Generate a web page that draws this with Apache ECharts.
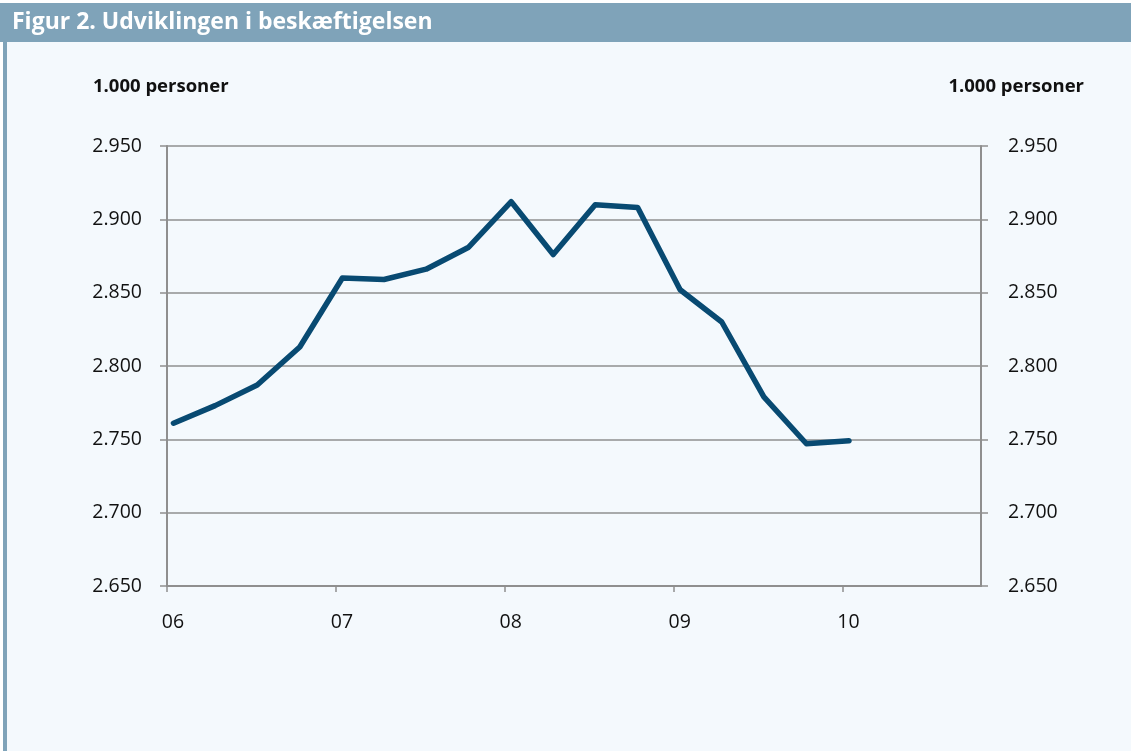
<!DOCTYPE html>
<html>
<head>
<meta charset="utf-8">
<script src="https://cdn.jsdelivr.net/npm/echarts@6/dist/echarts.min.js"></script>
<style>
  html, body { margin: 0; padding: 0; background: #fff; }
  #chart { width: 1131px; height: 751px; }
</style>
</head>
<body>
<div id="chart"></div>
<script>
/* Beskæftigelse, 1.000 personer, kvartalsvis 2006K1 - 2010K1 */
const quarters = [
  "2006-01-15", "2006-04-15", "2006-07-15", "2006-10-15",
  "2007-01-15", "2007-04-15", "2007-07-15", "2007-10-15",
  "2008-01-15", "2008-04-15", "2008-07-15", "2008-10-15",
  "2009-01-15", "2009-04-15", "2009-07-15", "2009-10-15",
  "2010-01-15",
];
const employment = [
  2761, 2773, 2787, 2813,
  2860, 2859, 2866, 2881,
  2912, 2876, 2910, 2908,
  2852, 2830, 2779, 2747,
  2749,
];
const yearTicks = [2006, 2007, 2008, 2009, 2010];
const xMin = 2006;
const xMax = 2010.82;
const yMin = 2650;
const yMax = 2950;
const yStep = 50;

const FONT = "'Open Sans', 'Noto Sans', sans-serif";
const BAR_COLOR = "#7fa3b9";
const BG_COLOR = "#f4f9fd";
const GRID_COLOR = "#8f8f8f";

/* 2.950 style thousands separator */
function fmtThousands(v) {
  const s = String(Math.round(v));
  return s.length > 3 ? s.slice(0, -3) + "." + s.slice(-3) : s;
}

/* date string -> decimal year, so the x axis can be a plain value axis */
function toYear(s) {
  const p = s.split("-").map(Number);
  const y = p[0];
  const start = Date.UTC(y, 0, 1);
  const end = Date.UTC(y + 1, 0, 1);
  return y + (Date.UTC(y, p[1] - 1, p[2]) - start) / (end - start);
}

const chart = echarts.init(document.getElementById("chart"), null, { renderer: "canvas" });

chart.setOption({
  backgroundColor: BG_COLOR,
  animation: false,
  textStyle: { fontFamily: FONT },
  graphic: [
    { type: "rect", left: 0, top: 0, shape: { width: 1131, height: 3 }, style: { fill: "#ffffff" } },
    { type: "rect", left: 0, top: 3, shape: { width: 1131, height: 39 }, style: { fill: BAR_COLOR } },
    { type: "rect", left: 0, top: 42, shape: { width: 3, height: 709 }, style: { fill: "#ffffff" } },
    { type: "rect", left: 3, top: 42, shape: { width: 4, height: 709 }, style: { fill: BAR_COLOR } },
    {
      type: "text", left: 12, top: 11,
      style: { text: "Figur 2. Udviklingen i beskæftigelsen", fill: "#ffffff", font: "bold 23px " + FONT },
    },
    {
      type: "text", left: 93, top: 77,
      style: { text: "1.000 personer", fill: "#111111", font: "bold 18.5px " + FONT },
    },
    {
      type: "text", right: 47, top: 77,
      style: { text: "1.000 personer", fill: "#111111", font: "bold 18.5px " + FONT },
    },
  ],
  grid: { left: 167, right: 150, top: 146, bottom: 165, containLabel: false },
  xAxis: {
    type: "value",
    min: xMin,
    max: xMax,
    splitLine: { show: false },
    axisLine: { lineStyle: { color: GRID_COLOR, width: 2 } },
    axisTick: {
      show: true, customValues: yearTicks, length: 6,
      lineStyle: { color: GRID_COLOR, width: 1.5 },
    },
    axisLabel: {
      customValues: yearTicks,
      formatter: function (v) { return String(v).slice(2); },
      color: "#111111", fontSize: 19.5, fontFamily: FONT,
      margin: 26, padding: [0, 0, 0, 12],
    },
  },
  yAxis: [
    {
      type: "value", position: "left", min: yMin, max: yMax, interval: yStep,
      axisLine: { show: true, lineStyle: { color: GRID_COLOR, width: 2 } },
      axisTick: { show: true, length: 7, lineStyle: { color: GRID_COLOR, width: 1.5 } },
      splitLine: { show: true, lineStyle: { color: GRID_COLOR, width: 1.5 } },
      axisLabel: { formatter: fmtThousands, color: "#111111", fontSize: 19.5, fontFamily: FONT, margin: 25 },
    },
    {
      type: "value", position: "right", min: yMin, max: yMax, interval: yStep,
      axisLine: { show: true, lineStyle: { color: GRID_COLOR, width: 2 } },
      axisTick: { show: true, length: 7, lineStyle: { color: GRID_COLOR, width: 1.5 } },
      splitLine: { show: false },
      axisLabel: { formatter: fmtThousands, color: "#111111", fontSize: 19.5, fontFamily: FONT, margin: 27 },
    },
  ],
  series: [
    {
      type: "line",
      yAxisIndex: 0,
      data: quarters.map(function (d, i) { return [toYear(d), employment[i]]; }),
      showSymbol: false,
      lineStyle: { color: "#084a72", width: 5.5, cap: "round", join: "round" },
    },
  ],
});
</script>
</body>
</html>
